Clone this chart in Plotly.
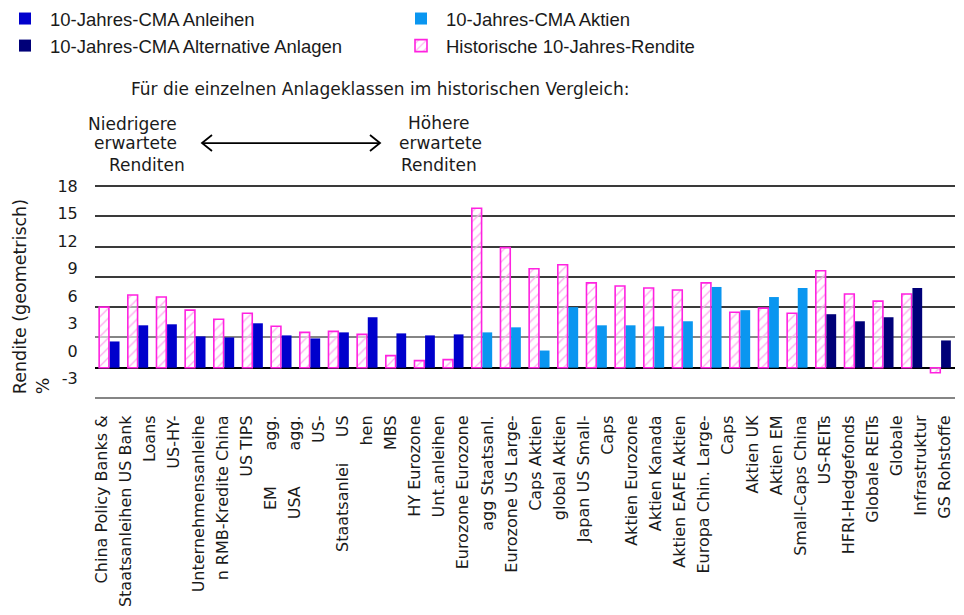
import plotly.graph_objects as go

# ---------------------------------------------------------------------------
# Data: 10-year capital market assumptions (CMA) vs. historical 10-year returns
# ---------------------------------------------------------------------------
bond_classes = ["China Policy Banks & Staatsanleihen", "US Bank Loans", "US-HY-Unternehmensanleihen",
                "RMB-Kredite China", "US TIPS", "EM agg.", "USA agg.", "US-Staatsanleihen", "US MBS",
                "HY Eurozone", "Unt.anleihen Eurozone", "Eurozone agg", "Staatsanl. Eurozone"]
equity_classes = ["US Large-Caps", "Aktien global", "Aktien Japan", "US Small-Caps", "Aktien Eurozone",
                  "Aktien Kanada", "Aktien EAFE", "Aktien Europa", "Chin. Large-Caps", "Aktien UK",
                  "Aktien EM", "Small-Caps China"]
alt_classes = ["US-REITs", "HFRI-Hedgefonds", "Globale REITs", "Globale Infrastruktur", "GS Rohstoffe"]

cma_bonds = [2.6, 4.2, 4.3, 3.1, 3.0, 4.4, 3.2, 2.9, 3.5, 5.0, 3.4, 3.2, 3.3]
cma_equities = [3.5, 4.0, 1.7, 6.0, 4.2, 4.2, 4.1, 4.6, 8.0, 5.7, 7.0, 7.9]
cma_alts = [5.3, 4.6, 5.0, 7.9, 2.7]

hist_10y = [6.0, 7.2, 7.0, 5.7, 4.8, 5.4, 4.1, 3.5, 3.6, 3.3, 1.2, 0.7, 0.8,
            15.8, 11.9, 9.8, 10.2, 8.4, 8.1, 7.9, 7.7, 8.4, 5.5, 5.9, 5.4,
            9.6, 7.3, 6.6, 7.3, -0.5]

all_classes = bond_classes + equity_classes + alt_classes

# Category text as it is set under the axis (wrapped lines, bottom-to-top)
GAP_L = "\u00a0" * 7
GAP_S = "\u00a0" * 5
axis_text_lines = [
    "China Policy Banks &", "Staatsanleihen US Bank", "Loans", "US-HY-", "Unternehmensanleihe",
    "n RMB-Kredite China", "US TIPS", "EM" + GAP_L + "agg.", "USA" + GAP_L + "agg.", "US-",
    "Staatsanlei" + GAP_S + "US", "hen", "MBS", "HY Eurozone", "Unt.anleihen", "Eurozone Eurozone",
    "agg Staatsanl.", "Eurozone US Large-", "Caps Aktien", "global Aktien", "Japan US Small-", "Caps",
    "Aktien Eurozone", "Aktien Kanada", "Aktien EAFE Aktien", "Europa Chin. Large-", "Caps",
    "Aktien UK", "Aktien EM", "Small-Caps China", "US-REITs", "HFRI-Hedgefonds", "Globale REITs",
    "Globale", "Infrastruktur", "GS Rohstoffe",
]

y_tick_values = [-3, 0, 3, 6, 9, 12, 15, 18]
Y_MIN, Y_MAX = -3.2, 18.3

# ---------------------------------------------------------------------------
# Styling
# ---------------------------------------------------------------------------
C_BONDS = "#0000CC"
C_EQUITY = "#0A96F0"
C_ALTS = "#000078"
C_PINK = "#FF22E0"
TXT = "#1a1a1a"
GOTHIC = "DejaVu Sans"
ARIAL = "Liberation Sans, Arial"

W, H = 964, 615
UNIT_PX = 10.11                      # pixels per percentage point on the value axis
ML, MR, MT = 95, 9, 183
MB = H - (368 - Y_MIN * UNIT_PX)     # zero line sits at 368 px
PW, PH = W - ML - MR, H - MT - MB


def px(x_pixel):
    return (x_pixel - ML) / PW


def py(y_pixel):
    return (H - MB - y_pixel) / PH


fig = go.Figure()

fig.add_bar(
    x=all_classes, y=hist_10y, name="Historische 10-Jahres-Rendite", offsetgroup="hist",
    legendrank=4,
    marker=dict(color="rgba(255,255,255,0.55)", line=dict(color=C_PINK, width=1.6),
                pattern=dict(shape="/", fgcolor="#FFA8F0", bgcolor="rgba(255,255,255,0.55)",
                             size=7, solidity=0.18)),
)
fig.add_bar(x=bond_classes, y=cma_bonds, name="10-Jahres-CMA Anleihen", offsetgroup="cma",
            legendrank=1, marker=dict(color=C_BONDS, line=dict(width=0)))
fig.add_bar(x=equity_classes, y=cma_equities, name="10-Jahres-CMA Aktien", offsetgroup="cma",
            legendrank=2, marker=dict(color=C_EQUITY, line=dict(width=0)))
fig.add_bar(x=alt_classes, y=cma_alts, name="10-Jahres-CMA Alternative Anlagen", offsetgroup="cma",
            legendrank=3, marker=dict(color=C_ALTS, line=dict(width=0)))

# Empty trace that registers the label axes (x2 / y2) so they get drawn
fig.add_scatter(x=[], y=[], xaxis="x2", yaxis="y2", showlegend=False, hoverinfo="skip")

# Header texts
annotations = [
    dict(text="Für die einzelnen Anlageklassen im historischen Vergleich:", x=px(380), y=py(89)),
    dict(text="Niedrigere", x=px(132), y=py(124)),
    dict(text="erwartete", x=px(135), y=py(143)),
    dict(text="Renditen", x=px(147), y=py(165)),
    dict(text="Höhere", x=px(439), y=py(123)),
    dict(text="erwartete", x=px(440), y=py(143)),
    dict(text="Renditen", x=px(439), y=py(165)),
]
for a in annotations:
    fig.add_annotation(xref="paper", yref="paper", showarrow=False, xanchor="center", yanchor="middle",
                       font=dict(family=GOTHIC, size=17, color=TXT), **a)

# Axis title, left-aligned lines reading upwards
fig.add_annotation(text="Rendite (geometrisch)<br>%", textangle=-90, align="left",
                   xref="paper", yref="paper", x=px(31), y=py(397), xanchor="center", yanchor="bottom",
                   showarrow=False, font=dict(family=GOTHIC, size=17.5, color=TXT))

# Double-headed arrow between the two header captions
ay = py(143)
fig.add_shape(type="line", xref="paper", yref="paper", x0=px(202), x1=px(380), y0=ay, y1=ay,
              line=dict(color="black", width=1.8))
fig.add_shape(type="path", xref="paper", yref="paper",
              path=f"M {px(212)},{py(135)} L {px(202)},{py(143)} L {px(212)},{py(151)}",
              line=dict(color="black", width=1.8))
fig.add_shape(type="path", xref="paper", yref="paper",
              path=f"M {px(370)},{py(135)} L {px(380)},{py(143)} L {px(370)},{py(151)}",
              line=dict(color="black", width=1.8))

# Label axis: "18" sits at 186 px, 9.2 px per unit
lab_top = 18 + (186 - MT) / 9.2
lab_bot = 18 - (H - MB - 186) / 9.2

fig.update_layout(
    width=W, height=H, template="none",
    paper_bgcolor="white", plot_bgcolor="white",
    margin=dict(l=ML, r=MR, t=MT, b=MB, pad=0),
    font=dict(family=GOTHIC, color=TXT),
    barmode="group", bargap=0.26, bargroupgap=0.08,
    showlegend=True,
    legend=dict(orientation="h", xref="container", yref="container", x=0, y=1,
                xanchor="left", yanchor="top", entrywidth=341, entrywidthmode="pixels",
                itemwidth=40, font=dict(family=ARIAL, size=18.5, color=TXT),
                bgcolor="rgba(0,0,0,0)", borderwidth=0),
    xaxis=dict(type="category", categoryorder="array", categoryarray=all_classes,
               range=[-0.5, len(all_classes) - 0.5], showticklabels=False, ticks="",
               showgrid=False, zeroline=False, showline=False, automargin=False),
    xaxis2=dict(overlaying="x", anchor="y", side="bottom",
                range=[-0.29, 35.415], tickmode="array",
                tickvals=list(range(len(axis_text_lines))), ticktext=axis_text_lines,
                tickangle=-90, ticks="outside", ticklen=8, tickcolor="rgba(0,0,0,0)",
                showgrid=False, zeroline=False, showline=False,
                automargin=False, tickfont=dict(family=GOTHIC, size=16, color=TXT)),
    yaxis=dict(range=[Y_MIN, Y_MAX], tickmode="array", tickvals=[6, 9, 12, 15, 18],
               showticklabels=False, ticks="", showgrid=True, gridcolor="#3a3a3a", gridwidth=1.5,
               minor=dict(tickmode="array", tickvals=[-3, 3], showgrid=True, gridcolor="#858585",
                          gridwidth=2.4, ticks=""),
               zeroline=True, zerolinecolor="black", zerolinewidth=2, showline=False,
               automargin=False),
    yaxis2=dict(overlaying="y", anchor="x", side="left", range=[lab_bot, lab_top],
                tickmode="array", tickvals=y_tick_values, ticktext=[str(v) for v in y_tick_values],
                ticks="outside", ticklen=13, tickcolor="rgba(0,0,0,0)",
                showgrid=False, zeroline=False, showline=False, automargin=False,
                tickfont=dict(family=GOTHIC, size=16, color=TXT)),
)

fig.write_html("out.html")
